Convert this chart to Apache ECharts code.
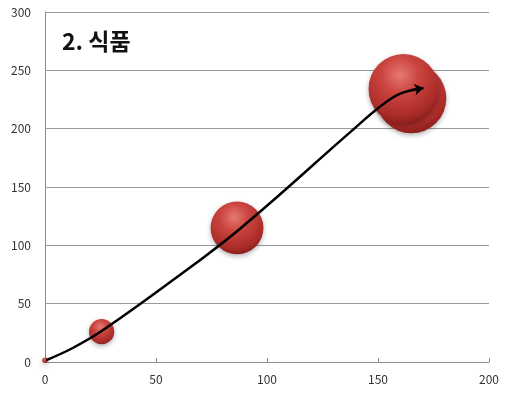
<!DOCTYPE html>
<html><head><meta charset="utf-8">
<script src="https://cdn.jsdelivr.net/npm/echarts@6/dist/echarts.min.js"></script>
<style>html,body{margin:0;padding:0;background:#fff}#c{width:505px;height:406px}</style>
</head><body><div id="c"></div>
<script>
var titleText = '2. 식품';
var xTicks = [0, 50, 100, 150, 200];
var yTicks = [0, 50, 100, 150, 200, 250, 300];
var bubbleX = [0, 25.5, 86.5, 165, 161.5];
var bubbleY = [1.5, 26, 115, 226, 234];
var bubbleSize = [0.6, 13, 57, 100, 100];
var curveX = [0.5, 12.5, 25.5, 57.5, 88, 137.5, 151, 160, 169.5];
var curveY = [1.5, 12, 26.5, 70, 114.5, 197, 219, 230, 234.5];
var arrowFrom = [165, 233];
var arrowTo = [170.5, 234.8];

var chart = echarts.init(document.getElementById('c'), null, {renderer: 'canvas'});
var font = '"Noto Sans CJK KR", "Noto Sans", sans-serif';
var bubbles = bubbleX.map(function (x, i) { return [x, bubbleY[i], bubbleSize[i]]; });
var curve = curveX.map(function (x, i) { return [x, curveY[i]]; });
var sphere = new echarts.graphic.RadialGradient(0.45, 0.3, 0.75, [
  {offset: 0, color: '#e57a72'},
  {offset: 0.35, color: '#cc4540'},
  {offset: 0.8, color: '#a82a27'},
  {offset: 1, color: '#7e1816'}
]);
chart.setOption({
  animation: false,
  backgroundColor: '#ffffff',
  title: {
    text: titleText, left: 57, top: 25,
    textStyle: {fontFamily: font, fontSize: 23, fontWeight: 'bold', color: '#111'}
  },
  grid: {left: 45, right: 16, top: 12, bottom: 44, containLabel: false},
  xAxis: {
    type: 'value', min: xTicks[0], max: xTicks[xTicks.length - 1], interval: 50,
    axisLine: {show: true, lineStyle: {color: '#8c8c8c', width: 1}},
    axisTick: {show: true, inside: true, length: 4, lineStyle: {color: '#8c8c8c'}},
    splitLine: {show: false},
    axisLabel: {color: '#333', fontFamily: font, fontSize: 12, margin: 11}
  },
  yAxis: {
    type: 'value', min: yTicks[0], max: yTicks[yTicks.length - 1], interval: 50,
    axisLine: {show: true, lineStyle: {color: '#8c8c8c', width: 1}},
    axisTick: {show: false},
    splitLine: {show: true, lineStyle: {color: '#9a9a9a', width: 1}},
    axisLabel: {color: '#333', fontFamily: font, fontSize: 12, margin: 14}
  },
  series: [
    {
      type: 'scatter', data: bubbles, z: 2,
      symbolSize: function (d) { return 70 * Math.sqrt(d[2] / 100); },
      itemStyle: {
        color: sphere, opacity: 1,
        shadowBlur: 5, shadowColor: 'rgba(0,0,0,0.3)', shadowOffsetY: 2
      }
    },
    {
      type: 'line', data: curve, smooth: 0.4, symbol: 'none', z: 5,
      lineStyle: {color: '#000', width: 2.5},
      markLine: {
        silent: true, symbol: ['none', 'arrow'], symbolSize: [9, 9],
        label: {show: false},
        lineStyle: {color: '#000', width: 2.5, type: 'solid'},
        data: [[{coord: arrowFrom}, {coord: arrowTo}]]
      }
    }
  ]
});
</script></body></html>
